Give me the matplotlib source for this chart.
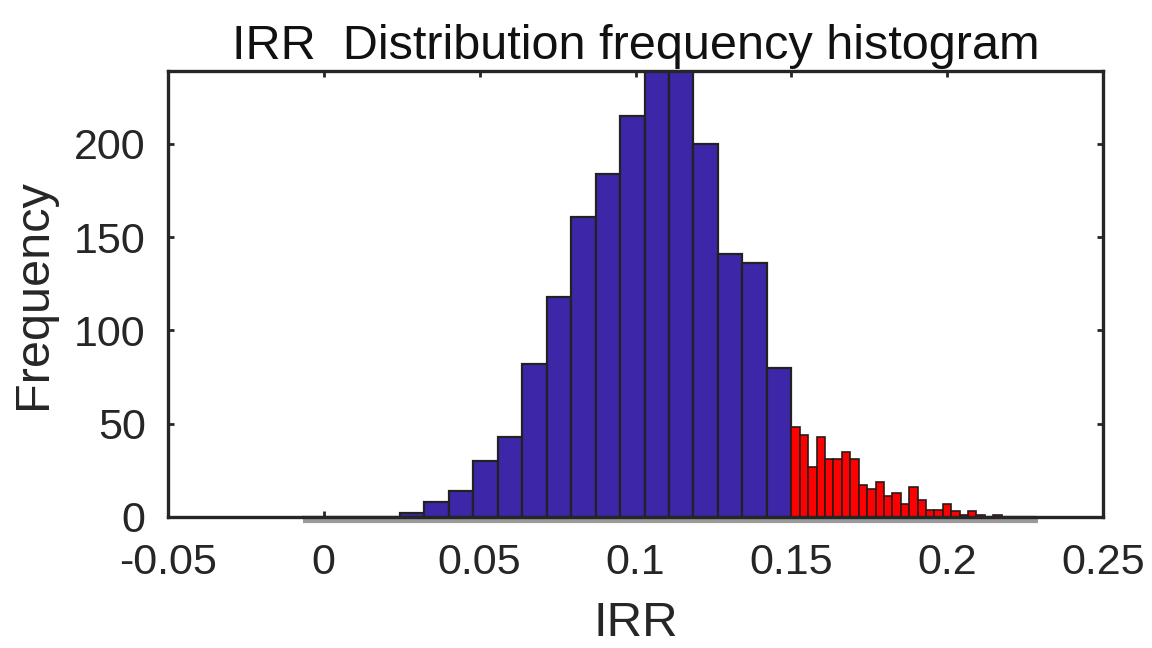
import numpy as np
import matplotlib.pyplot as plt
from matplotlib.transforms import ScaledTranslation

plt.rcParams['font.family'] = ['Liberation Sans', 'DejaVu Sans']

# blue histogram: 30 bins, only the part below 0.15 has counts
blue_start = -0.007
blue_width = 0.00785
blue_counts = [0, 0, 0, 0, 2, 8, 14, 30, 43, 82, 118, 161, 184, 215, 245, 243,
               200, 141, 136, 80, 0, 0, 0, 0, 0, 0, 0, 0, 0, 0]

# red histogram: finer bins above 0.15
red_start = 0.15
red_width = 0.0027
red_counts = [48, 44, 27, 43, 31, 31, 35, 31, 17, 15, 19, 11, 13, 7, 16, 9,
              4, 4, 7, 3, 1, 3, 1, 0, 1, 0]

xticks = [-0.05, 0, 0.05, 0.1, 0.15, 0.2, 0.25]
xtick_labels = ['-0.05', '0', '0.05', '0.1', '0.15', '0.2', '0.25']
yticks = [0, 50, 100, 150, 200]

fig = plt.figure(figsize=(11.52, 6.48), dpi=100)
ax = fig.add_axes([0.1458, 0.2022, 0.8117, 0.6882])

blue_left = blue_start + blue_width * np.arange(len(blue_counts))
red_left = red_start + red_width * np.arange(len(red_counts))

ax.bar(blue_left, blue_counts, width=blue_width, align='edge',
       color='#3e26a8', edgecolor='#222222', linewidth=1.6, zorder=2)
ax.bar(red_left, red_counts, width=red_width, align='edge',
       color='#ff0000', edgecolor='#2a1a1a', linewidth=1.2, zorder=3)

# grey shadow of the histogram baseline under the axis
shift = ScaledTranslation(1.5 / 100, -4 / 100, fig.dpi_scale_trans)
ax.plot([blue_left[0], blue_left[-1] + blue_width], [0, 0], color='#9a9a9a',
        lw=3, solid_capstyle='butt', transform=ax.transData + shift,
        clip_on=False, zorder=1)

ax.set_xlim(-0.05, 0.25)
ax.set_ylim(0, 239)
ax.set_xticks(xticks)
ax.set_xticklabels(xtick_labels)
ax.set_yticks(yticks)

ink = '#262626'
for s in ax.spines.values():
    s.set_linewidth(2.4)
    s.set_color(ink)
    s.set_zorder(5)
ax.tick_params(direction='in', length=4, width=2, colors=ink,
               labelsize=31, top=True, right=True)
ax.tick_params(axis='x', pad=19)
ax.tick_params(axis='y', pad=16)

ax.set_xlabel('IRR', fontsize=35.5, color=ink, labelpad=13)
ax.set_ylabel('Frequency', fontsize=35, color=ink, labelpad=13)
ax.set_title('IRR  Distribution frequency histogram', fontsize=35,
             color='#111111', pad=9)

fig.savefig('out.png', dpi=100)
